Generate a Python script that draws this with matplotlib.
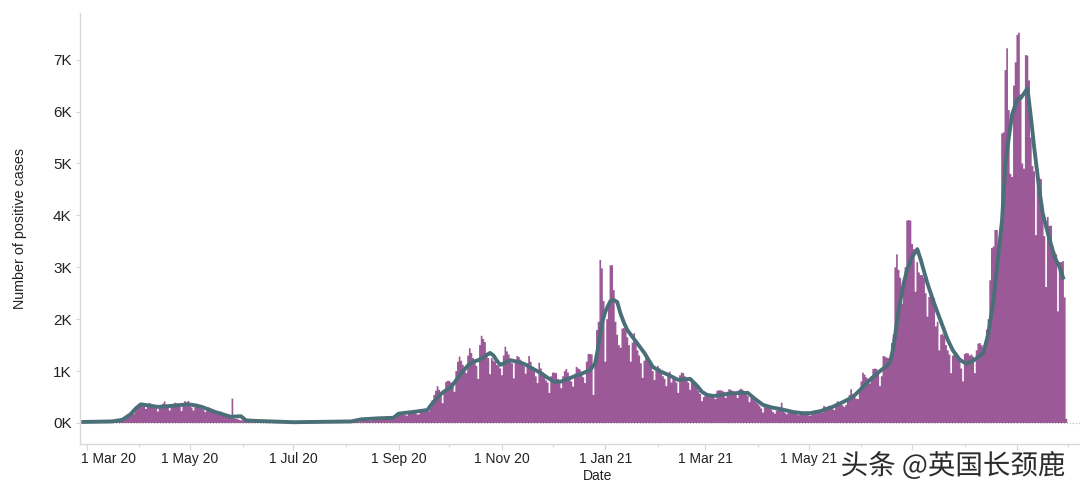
import numpy as np
import pandas as pd
import matplotlib
matplotlib.use('Agg')
import matplotlib.pyplot as plt
import matplotlib.dates as mdates
import matplotlib.patheffects as pe
from matplotlib.transforms import ScaledTranslation

# ── Data: daily positive cases, one row per week (Sun..Sat) ────────────────────
first_wave = [
    2, 3, 3, 5, 6, 8, 11,
    5, 12, 15, 20, 25, 30, 35,
    20, 38, 30, 45, 60, 70, 80,
    70, 80, 100, 130, 170, 200, 230,
    180, 240, 280, 330, 370, 380, 350,
    270, 360, 385, 370, 350, 340, 290,
    220, 310, 340, 370, 415, 340, 290,
    240, 320, 350, 390, 380, 350, 310,
    230, 380, 420, 400, 425, 360, 300,
    240, 320, 370, 340, 320, 300, 260,
    210, 290, 300, 280, 260, 240, 210,
    170, 210, 220, 200, 190, 170, 150,
    100, 110, 470, 90, 80, 75, 60,
    50, 55, 40, 35, 30, 28, 25,
]
summer = [
    20, 30, 30, 30, 28, 25, 22,
    15, 25, 25, 25, 22, 20, 18,
    12, 22, 22, 20, 20, 18, 15,
    12, 18, 18, 18, 16, 15, 14,
    10, 15, 18, 16, 16, 14, 12,
    8, 12, 14, 14, 13, 12, 10,
    8, 12, 12, 12, 12, 10, 9,
    8, 14, 15, 15, 14, 12, 10,
    10, 20, 30, 35, 30, 30, 28,
    25, 45, 60, 70, 65, 60, 50,
    50, 85, 90, 85, 85, 75, 65,
    60, 95, 100, 95, 90, 85, 75,
    90, 170, 195, 195, 185, 175, 150,
    140, 195, 200, 205, 200, 195, 165,
    165, 240, 255, 265, 260, 250, 225,
]
autumn = [
    290, 440, 540, 620, 710, 640, 580,
    380, 640, 790, 815, 810, 780, 700,
    600, 1000, 1180, 1280, 1200, 1120, 1020,
    960, 1300, 1440, 1350, 1250, 1180, 1100,
    850, 1500, 1680, 1620, 1560, 1350, 1250,
    940, 1250, 1200, 1180, 1120, 1100, 1050,
    920, 1300, 1470, 1380, 1320, 1240, 1150,
    860, 1180, 1290, 1270, 1220, 1170, 1100,
    950, 1150, 1290, 1180, 1060, 1000, 900,
    770, 1160, 1050, 980, 900, 820, 780,
    580, 900, 970, 970, 960, 850, 780,
    670, 900, 1000, 1040, 970, 880, 800,
    700, 950, 1080, 1050, 1030, 960, 880,
    770, 1180, 1330, 1330, 1320, 540, 1150,
]
winter = [
    1790, 1950, 3140, 2980, 2350, 1180, 2000,
    2300, 3040, 3040, 2560, 1950, 1700, 1500,
    1450, 1820, 1830, 1800, 1650, 1500, 1180,
    1550, 1730, 1550, 1400, 1300, 1150, 870,
    1200, 1310, 1280, 1200, 1100, 1000, 830,
    1000, 1100, 1050, 980, 900, 850, 710,
    900, 990, 780, 900, 850, 780, 580,
    920, 970, 960, 900, 850, 780, 640,
    780, 810, 790, 700, 620, 560, 420,
    500, 550, 540, 560, 560, 540, 480,
    460, 620, 630, 630, 620, 600, 480,
    600, 650, 640, 620, 600, 580, 480,
    640, 660, 640, 590, 560, 520, 400,
    480, 460, 440, 400, 370, 330, 280,
]
spring = [
    200, 320, 300, 310, 290, 260, 210,
    180, 240, 260, 270, 390, 250, 200,
    170, 230, 230, 220, 220, 200, 170,
    150, 190, 190, 190, 180, 170, 150,
    140, 170, 180, 240, 250, 240, 220,
    200, 330, 310, 310, 330, 300, 280,
    250, 350, 420, 400, 370, 340, 310,
    350, 480, 540, 650, 560, 500, 470,
    460, 640, 800, 970, 930, 880, 850,
    760, 900, 1040, 1050, 1040, 950, 710,
    900, 1290, 1280, 1260, 1250, 1180, 1540,
]
delta_wave = [
    1700, 3000, 3250, 2950, 2800, 2300, 2750,
    3000, 3900, 3910, 3900, 3450, 3350, 2530,
    3100, 2900, 2850, 2850, 2800, 2500, 2050,
    2430, 2430, 2420, 2400, 1860, 1950, 1400,
    1700, 1720, 1680, 1500, 1400, 1320, 960,
    1300, 1350, 1340, 1300, 1200, 1050, 800,
    1330, 1350, 1340, 1300, 1320, 1280, 960,
    1400, 1530, 1540, 1500, 1460, 1520, 1800,
    2000, 2750, 3370, 3400, 3720, 3720, 3430,
    3660, 5580, 5600, 6800, 7220, 6030, 4800,
    4740, 6500, 6950, 7480, 7520, 6330, 5000,
    4900, 7090, 7080, 6600, 5500, 4950, 4850,
    3620, 4750, 4720, 4700, 4100, 3600, 2620,
    3970, 3800, 3800, 3400, 3300, 3250, 2150,
    3100, 3100, 3120, 2420, 80,
]
daily_cases = np.array(first_wave + summer + autumn + winter + spring + delta_wave)
dates = pd.date_range('2020-03-01', periods=len(daily_cases), freq='D')

avg_days = [-2, 15, 21, 26, 29, 32, 36, 42, 50, 60, 64, 68, 76, 85, 91, 94, 100, 122, 156, 162,
            172, 181, 184, 192, 201, 204, 206, 209, 212, 215, 217, 219, 222, 225, 228, 231, 234,
            236, 238, 240, 242, 244, 247, 250, 254, 258, 263, 268, 272, 276, 280, 287, 292, 297,
            300, 302, 304, 306, 309, 311, 313, 315, 317, 319, 324, 329, 334, 338, 343, 349, 352,
            356, 360, 363, 366, 370, 374, 380, 386, 390, 394, 399, 404, 409, 413, 417, 422, 427,
            433, 440, 446, 452, 457, 462, 468, 472, 474, 476, 479, 482, 484, 487, 490, 492, 496,
            500, 504, 508, 511, 515, 519, 524, 529, 532, 535, 537, 540, 542, 544, 546, 549, 551,
            553, 555, 557, 559, 562, 564, 567, 571, 574, 576]
avg_cases = [20, 30, 60, 170, 280, 360, 340, 310, 330, 360, 340, 310, 210, 120, 130, 50, 40, 15, 30, 70,
             90, 100, 180, 210, 250, 380, 450, 560, 630, 690, 780, 870, 1000, 1110, 1180, 1210, 1260,
             1310, 1350, 1300, 1200, 1120, 1160, 1210, 1180, 1140, 1050, 960, 870, 790, 800, 890, 950, 1020,
             1150, 1500, 1920, 2150, 2350, 2370, 2330, 2100, 1930, 1790, 1570, 1350, 1080, 1000, 930, 830, 840,
             850, 720, 600, 540, 520, 540, 570, 580, 580, 470, 350, 300, 270, 240, 210, 190, 190,
             230, 310, 400, 500, 660, 830, 1000, 1100, 1170, 1470, 2180, 2690, 2950, 3200, 3350, 3150, 2690,
             2300, 1950, 1600, 1400, 1220, 1140, 1220, 1350, 1730, 2370, 3000, 3900, 5000, 5500, 5950, 6240, 6260,
             6350, 6450, 5900, 5300, 4500, 4040, 3660, 3200, 3000, 2800]

tick_dates = ['2020-03-01', '2020-05-01', '2020-07-01', '2020-09-01', '2020-11-01',
              '2021-01-01', '2021-03-01', '2021-05-01', '2021-07-01', '2021-09-01']
tick_labels = ['1 Mar 20', '1 May 20', '1 Jul 20', '1 Sep 20', '1 Nov 20',
               '1 Jan 21', '1 Mar 21', '1 May 21', '', '']
y_ticks = [0, 1000, 2000, 3000, 4000, 5000, 6000, 7000]
y_labels = ['0K', '1K', '2K', '3K', '4K', '5K', '6K', '7K']

# ── Plot ───────────────────────────────────────────────────────────────────────
plt.rcParams['font.family'] = ['Liberation Sans', 'DejaVu Sans']

W, H = 1080, 496
fig = plt.figure(figsize=(W / 100, H / 100), dpi=100)
ax = fig.add_axes([80 / W, (H - 444) / H, 1000 / W, 431 / H])

bar_color = '#9B5A97'
line_color = '#4A6F78'
axis_color = '#D8D8D8'

ax.axhline(0, color='#BBBBBB', linewidth=0.8, linestyle=':', zorder=1)
# one filled outline instead of ax.bar, separate bars leave white seams at this width
day_num = mdates.date2num(dates)
edges = np.append(day_num - 0.5, day_num[-1] + 0.5)
ax.stairs(daily_cases, edges, fill=True, color=bar_color, linewidth=0, zorder=2)
avg_dates = pd.Timestamp('2020-03-01') + pd.to_timedelta(avg_days, unit='D')
ax.plot(mdates.date2num(avg_dates), avg_cases, color=line_color, linewidth=2.8,
        solid_joinstyle='round', zorder=3)

ax.set_xlim(mdates.date2num(pd.Timestamp('2020-02-26') + pd.Timedelta(hours=2)),
            mdates.date2num(pd.Timestamp('2021-10-08')))
ax.set_ylim(-405, 7900)

for s in ['top', 'right']:
    ax.spines[s].set_visible(False)
for s in ['left', 'bottom']:
    ax.spines[s].set_color(axis_color)
    ax.spines[s].set_linewidth(1.0)

ax.set_yticks(y_ticks)
ax.set_yticklabels(y_labels, fontsize=11, color='#222222')
ax.tick_params(axis='y', length=3, width=0.8, color=axis_color, pad=3)

ax.set_xticks(mdates.date2num(pd.to_datetime(tick_dates)))
ax.set_xticklabels(tick_labels, fontsize=10, color='#222222')
ax.xaxis.set_minor_locator(mdates.MonthLocator())
ax.tick_params(axis='x', which='major', length=4, width=0.8, color=axis_color, pad=2)
ax.tick_params(axis='x', which='minor', length=2, width=0.8, color=axis_color)

# first label is pushed right so it stays inside the axis
first = ax.get_xticklabels()[0]
first.set_ha('left')
first.set_transform(first.get_transform() + ScaledTranslation(-6 / 100, 0, fig.dpi_scale_trans))

fig.text(598 / W, 1 - 476 / H, 'Date', ha='center', va='center', fontsize=10, color='#222222')
fig.text(20.5 / W, 1 - 228.5 / H, 'Number of positive cases', rotation=90, ha='center', va='center',
         fontsize=10.3, color='#222222')

# watermark
wm = fig.text(953 / W, 1 - 466 / H, '头条 @英国长颈鹿', ha='center', va='center', fontsize=19.8,
              color='#2B2B2B', family=['Noto Sans CJK SC', 'DejaVu Sans'], zorder=10)
wm.set_path_effects([pe.withStroke(linewidth=1.5, foreground='white')])

plt.savefig('out.png', dpi=100)
